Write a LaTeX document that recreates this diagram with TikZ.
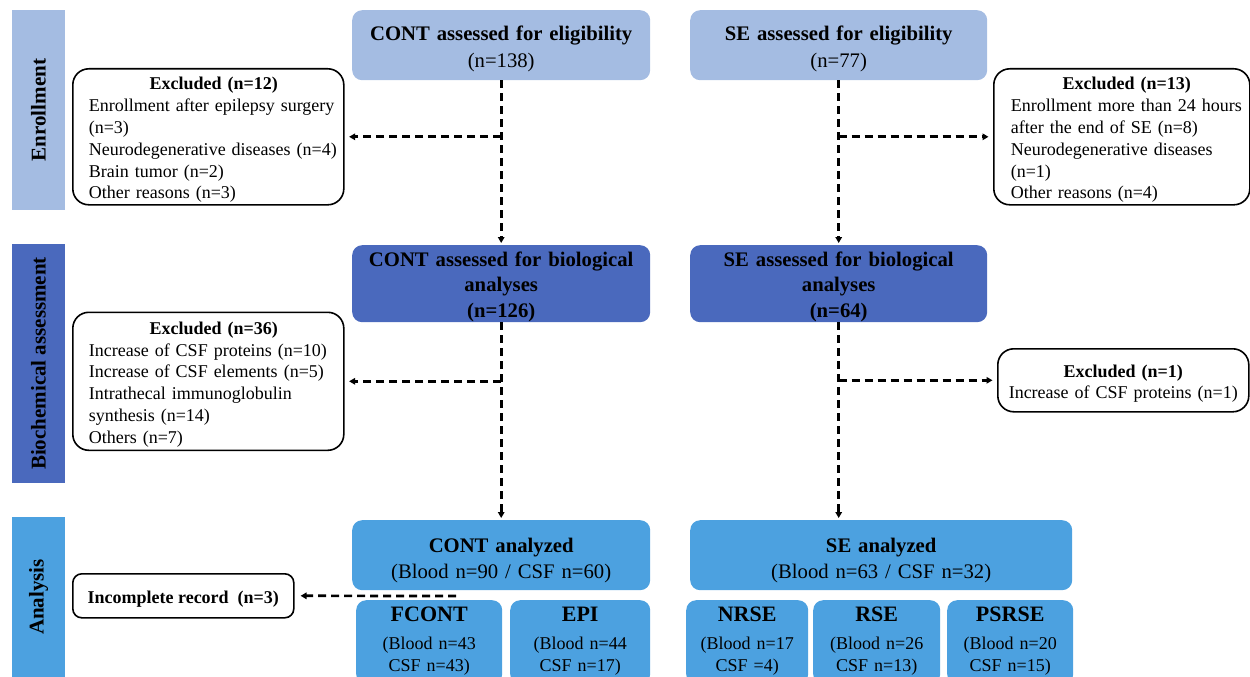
\documentclass[tikz,border=0pt]{standalone}
\usepackage{fontspec}
\setmainfont{Liberation Serif}
\usetikzlibrary{arrows.meta}
\definecolor{lightb}{RGB}{164,188,226}
\definecolor{darkb}{RGB}{74,105,189}
\definecolor{anab}{RGB}{76,161,224}
\begin{document}
\begin{tikzpicture}[x=1pt,y=-1pt,
  bluebox/.style={rounded corners=10pt, inner ysep=0pt, inner xsep=0pt, align=center, anchor=north west, text=black},
  topbox/.style={bluebox, fill=lightb, text width=#1, text height=30.5pt, text depth=39.5pt, font=\fontsize{20.7}{26.5}\selectfont},
  midbox/.style={bluebox, fill=darkb, text width=#1, text height=21pt, text depth=56pt, font=\fontsize{20.7}{25.5}\selectfont\bfseries},
  anabox/.style={bluebox, fill=anab, text width=#1, text height=32pt, text depth=38pt, font=\fontsize{20.7}{26}\selectfont},
  subbox/.style={bluebox, fill=anab, text width=#1, text height=21pt, text depth=63pt, font=\fontsize{18}{22}\selectfont},
  exbox/.style={draw=black, line width=1.6pt, rounded corners=16pt, fill=white, anchor=north west, inner ysep=0pt, inner xsep=0pt, align=left, font=\fontsize{18}{21.8}\selectfont},
  exleft/.style={exbox, execute at begin node={\leftskip=#1}},
  sidebar/.style={inner sep=0pt, minimum height=53pt, rotate=90, font=\fontsize{21}{25}\selectfont\bfseries},
  conn/.style={line width=2.7pt, dash pattern=on 8pt off 5pt, -{Triangle[length=6pt,width=6.5pt]}, shorten >=2pt},
  hconn/.style={conn, shorten >=4.5pt}]
\useasboundingbox (0,0) rectangle (1250,677);
\clip (0,0) rectangle (1250,677);

% side bars
\node[sidebar, fill=lightb, minimum width=200pt] (side1) at (38.5,110) {Enrollment};
\node[sidebar, fill=darkb, minimum width=239pt] (side2) at (38.5,363.5) {Biochemical assessment};
\node[sidebar, fill=anab, minimum width=160pt] (side3) at (38.5,597) {Analysis};

% enrollment
\node[topbox=298pt] (c1) at (352,10) {\textbf{CONT assessed for eligibility}\\(n=138)};
\node[topbox=297pt] (s1) at (690,10) {\textbf{SE assessed for eligibility}\\(n=77)};
\node[exleft=11pt, minimum width=271pt, text width=261pt, text height=21pt, text depth=115pt] (ex12) at (72,68)
  {\makebox[250pt]{\bfseries Excluded (n=12)}\\Enrollment after epilepsy surgery\\(n=3)\\Neurodegenerative diseases (n=4)\\Brain tumor (n=2)\\Other reasons (n=3)};
\node[exleft=10pt, minimum width=256pt, text width=242pt, text height=21pt, text depth=115pt] (ex13) at (993,68)
  {\makebox[232pt]{\bfseries Excluded (n=13)}\\Enrollment more than 24 hours\\after the end of SE (n=8)\\Neurodegenerative diseases\\(n=1)\\Other reasons (n=4)};

% biochemical
\node[midbox=298pt] (c2) at (352,245) {CONT assessed for biological\\analyses\\(n=126)};
\node[midbox=297pt] (s2) at (690,245) {SE assessed for biological\\analyses\\(n=64)};
\node[exleft=11pt, minimum width=271pt, text width=261pt, text height=22pt, text depth=116pt] (ex36) at (72,311.5)
  {\makebox[250pt]{\bfseries Excluded (n=36)}\\Increase of CSF proteins (n=10)\\Increase of CSF elements (n=5)\\Intrathecal immunoglobulin\\synthesis (n=14)\\Others (n=7)};
\node[exbox, align=center, text width=251pt, text height=29pt, text depth=34pt, font=\fontsize{18}{21}\selectfont] (ex1) at (997,348)
  {\textbf{Excluded (n=1)}\\Increase of CSF proteins (n=1)};

% analysis
\node[anabox=298pt] (c3) at (352,520) {\textbf{CONT analyzed}\\(Blood n=90 / CSF n=60)};
\node[anabox=382pt] (s3) at (690,520) {\textbf{SE analyzed}\\(Blood n=63 / CSF n=32)};
\node[exbox, align=center, minimum width=221pt, text height=30pt, text depth=14pt, rounded corners=9pt, font=\fontsize{18}{22}\selectfont\bfseries] (inc) at (72,573) {Incomplete record\ \ (n=3)};

\node[subbox=146pt] (fcont) at (356,600) {{\fontsize{22}{26}\selectfont\bfseries FCONT}\\[6pt](Blood n=43\\CSF n=43)};
\node[subbox=140pt] (epi) at (510,600) {{\fontsize{22}{26}\selectfont\bfseries EPI}\\[6pt](Blood n=44\\CSF n=17)};
\node[subbox=122pt] (nrse) at (686,600) {{\fontsize{22}{26}\selectfont\bfseries NRSE}\\[6pt](Blood n=17\\CSF =4)};
\node[subbox=127pt] (rse) at (813,600) {{\fontsize{22}{26}\selectfont\bfseries RSE}\\[6pt](Blood n=26\\CSF n=13)};
\node[subbox=126pt] (psrse) at (947,600) {{\fontsize{22}{26}\selectfont\bfseries PSRSE}\\[6pt](Blood n=20\\CSF n=15)};

% connectors
\draw[conn] (c1.south) -- (c2.north);
\draw[hconn] (c1.south |- ex12.east) -- (ex12.east);
\draw[conn] (s1.south) -- (s2.north);
\draw[hconn] (s1.south |- ex13.west) -- (ex13.west);
\draw[conn] (c2.south) -- (c3.north);
\draw[hconn] (c2.south |- ex36.east) -- (ex36.east);
\draw[conn] (s2.south) -- (s2.south |- s3.north);
\draw[hconn] (s2.south |- ex1.west) -- (ex1.west);
\coordinate (j5) at (456,596);
\draw[hconn, shorten >=6pt] (j5) -- (inc.east);
\end{tikzpicture}
\end{document}
